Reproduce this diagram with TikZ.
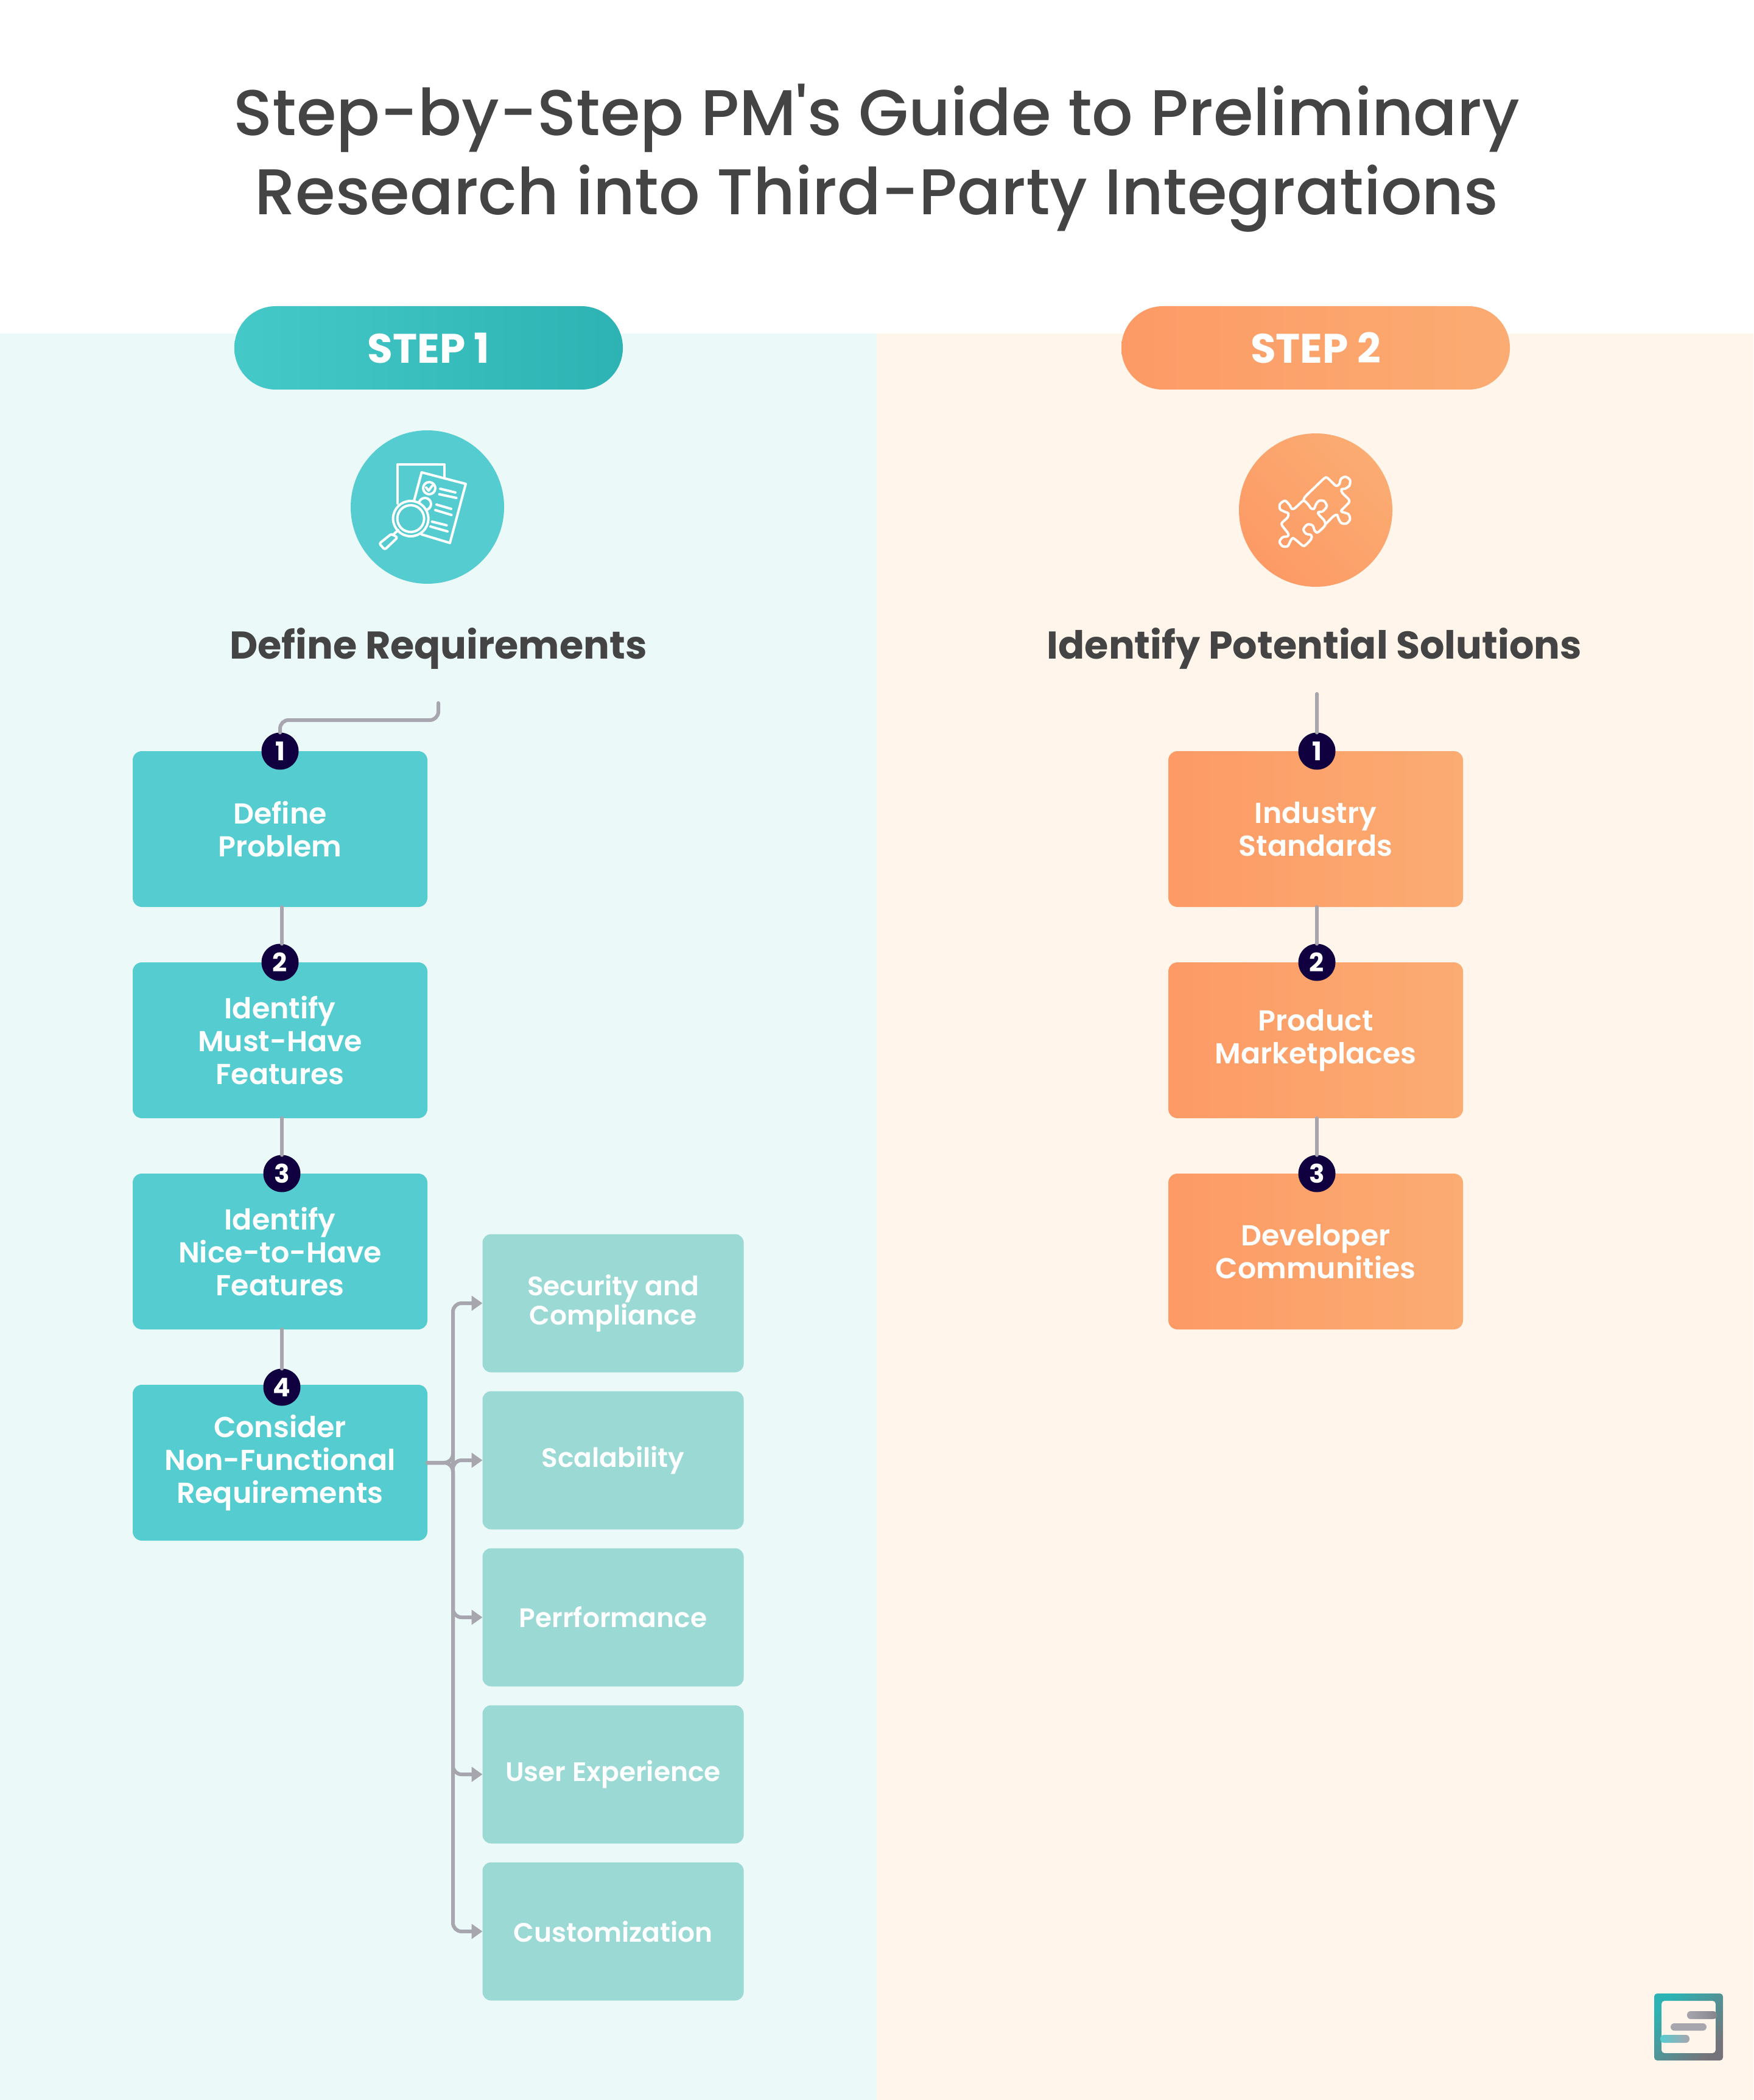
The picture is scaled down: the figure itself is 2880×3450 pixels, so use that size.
\documentclass[tikz,border=0pt]{standalone}
\usepackage{fontspec}
\setmainfont{Poppins}
\newfontfamily\medfont{Poppins Medium}
\newfontfamily\semifont{Poppins SemiBold}
\usetikzlibrary{positioning, arrows.meta}

\definecolor{tealbg}{HTML}{EBF9F9}
\definecolor{orangebg}{HTML}{FFF5EA}
\definecolor{tealbox}{HTML}{55CDD0}
\definecolor{tealsub}{HTML}{9AD9D4}
\definecolor{pillL}{HTML}{45C8C8}
\definecolor{pillR}{HTML}{2DB3B3}
\definecolor{orangeL}{HTML}{FD9A66}
\definecolor{orangeR}{HTML}{FBAC72}
\definecolor{linegray}{HTML}{A7A5AE}
\definecolor{inkdark}{HTML}{11003F}
\definecolor{titlegray}{HTML}{444444}

\begin{document}
\begin{tikzpicture}[
      x=0.1mm, y=-0.1mm,
      stepbox/.style  = {rectangle, rounded corners=1.5mm, inner sep=0pt, outer sep=0pt,
                         minimum width=48.4mm, minimum height=25.6mm,
                         align=center, text=white,
                         font=\semifont\fontsize{13.5}{15.4}\selectfont},
      tealstep/.style = {stepbox, fill=tealbox},
      orangestep/.style = {stepbox, left color=orangeL, right color=orangeR},
      subbox/.style   = {rectangle, rounded corners=1.4mm, inner sep=0pt, outer sep=0pt,
                         fill=tealsub, minimum width=42.9mm, minimum height=22.7mm,
                         align=center, text=white,
                         font=\semifont\fontsize{12.5}{13.7}\selectfont},
      pill/.style     = {rectangle, rounded corners=6.8mm, inner sep=0pt, outer sep=0pt,
                         minimum width=63.8mm, minimum height=13.7mm, text=white,
                         font=\bfseries\fontsize{19.3}{20}\selectfont},
      badge/.style    = {circle, fill=inkdark, text=white, inner sep=0pt, outer sep=0pt,
                         minimum size=6.1mm, font=\bfseries\fontsize{12}{12}\selectfont},
      disc/.style     = {circle, inner sep=0pt, outer sep=0pt, minimum size=25.2mm},
      heading/.style  = {text=titlegray, font=\bfseries\fontsize{18.1}{20}\selectfont},
      link/.style     = {draw=linegray, line width=0.6mm, line cap=round, rounded corners=1.4mm},
      arr/.style      = {link, -{Triangle[length=1.8mm, width=2.4mm]}},
      icon/.style     = {draw=white, line width=0.4mm, line cap=round, line join=round},
    ]
    \useasboundingbox (0,0) rectangle (2880,3450);
    \fill[white] (0,0) rectangle (2880,3450);
    \fill[tealbg] (0,548) rectangle (1440,3450);
    \fill[orangebg] (1440,548) rectangle (2880,3450);

    \node[text=titlegray, align=center, font=\medfont\fontsize{30.2}{37}\selectfont]
          (title) at (1440,260) {Step-by-Step PM's Guide to Preliminary\\Research into Third-Party Integrations};

    % Step headers
    \node[pill, left color=pillL, right color=pillR] (stepA) at (704,571.5) {STEP 1};
    \node[pill, left color=orangeL, right color=orangeR] (stepB) at (2161,571.5) {STEP 2};
    \node[disc, fill=tealbox] (discA) at (702,833) {};
    \node[disc, left color=orangeL, right color=orangeR, shading angle=135] (discB) at (2161,838) {};
    \node[heading] (headA) at (720,1065) {Define Requirements};
    \node[heading] (headB) at (2159,1065) {Identify Potential Solutions};

    % Left column
    \node[tealstep] (problem) at (460,1362) {Define\\Problem};
    \node[tealstep, below=9.1mm of problem] (must) {Identify\\Must-Have\\Features};
    \node[tealstep, below=9.1mm of must] (nice) {Identify\\Nice-to-Have\\Features};
    \node[tealstep, below=9.1mm of nice] (nonfunc) {Consider\\Non-Functional\\Requirements};

    % Right column
    \node[orangestep] (standards) at (2161,1362) {Industry\\Standards};
    \node[orangestep, below=9.1mm of standards] (market) {Product\\Marketplaces};
    \node[orangestep, below=9.1mm of market] (devs) {Developer\\Communities};

    % Sub boxes
    \node[subbox] (security) at (1007,2141) {Security and\\Compliance};
    \node[subbox, below=3.1mm of security] (scale) {Scalability};
    \node[subbox, below=3.1mm of scale] (perf) {Perrformance};
    \node[subbox, below=3.1mm of perf] (ux) {User Experience};
    \node[subbox, below=3.1mm of ux] (custom) {Customization};

    % Number badges
    \node[badge] (a1) at (problem.north) {1};
    \node[badge] (a2) at (must.north) {2};
    \node[badge, xshift=0.3mm] (a3) at (nice.north) {3};
    \node[badge, xshift=0.3mm, yshift=-0.4mm] (a4) at (nonfunc.north) {4};
    \node[badge, xshift=0.2mm] (b1) at (standards.north) {1};
    \node[badge, xshift=0.2mm] (b2) at (market.north) {2};
    \node[badge, xshift=0.2mm] (b3) at (devs.north) {3};

    \coordinate (startA) at (720,1155);
    \coordinate (startB) at (2163,1140);
    \coordinate (bus) at (744,2402);

    % Flow links
    \draw[link] (startA) -- (720,1183) -- (460,1183) -- (a1.north);
    \draw[link] ([xshift=0.3mm]problem.south) -- ([xshift=0.3mm]a2.north);
    \draw[link] ([xshift=0.3mm]must.south) -- (a3.north);
    \draw[link] ([xshift=0.3mm]nice.south) -- (a4.north);
    \draw[link] (startB) -- (b1.north);
    \draw[link] ([xshift=0.2mm]standards.south) -- (b2.north);
    \draw[link] ([xshift=0.2mm]market.south) -- (b3.north);

    % Branches to the sub boxes
    \foreach \target in {security, scale, perf, ux, custom}
      \draw[arr] (nonfunc.east) -- (bus |- nonfunc.east) -- (bus |- \target.west) -- (\target.west);

    % Document icon
    \draw[icon] (653,827) -- (653,763) -- (730,763) -- (730,785);
    \draw[icon] (680,823) -- (692.5,776) -- (765,795) -- (739,892) -- (692.5,878);
    \draw[icon] (705,802) circle (10);
    \draw[icon] (698,828) circle (10);
    \draw[icon] (700,801) -- (704,806) -- (710,798);
    \draw[icon] (723,803) -- (748,809) (721.5,812) -- (749.6,818);
    \draw[icon] (717,829) -- (741,836) (715,838) -- (741.6,846);
    \draw[icon] (709.5,857) -- (733.6,863) (707,865) -- (735,873);
    \draw[icon, fill=tealbox] (674.6,852) circle (29);
    \draw[icon] (674.6,852) circle (22);
    \draw[icon] (654,871) -- (645,879);
    \draw[icon, rounded corners=0.3mm] (643,877) -- (623,893) -- (632,903) -- (653,883) -- cycle;

    % Puzzle icon
    \begin{scope}[shift={(1980,680)}, scale=0.3333]
      \draw[icon] plot[smooth cycle, tension=0.5] coordinates {
        (484,428) (462,445) (440,465) (425,468) (415,450) (392,428) (367,445) (368,470)
        (392,483) (408,490) (405,510) (375,540) (385,560) (408,590) (405,603) (380,608)
        (365,630) (380,652) (405,652) (418,628) (430,612) (450,625) (480,650) (495,645)
        (522,615) (520,597) (495,590) (483,568) (503,545) (528,550) (538,575) (550,585)
        (565,575) (590,548) (585,525) (560,498) (555,485) (578,480) (598,455) (585,430)
        (560,428) (545,445) (535,468) (520,465) (505,445)};
      \draw[icon] plot[smooth, tension=0.5] coordinates {
        (484,425) (490,410) (530,370) (585,318) (600,315) (625,338) (645,355) (660,345)
        (668,320) (690,310) (712,325) (710,352) (690,368) (670,372) (675,390) (705,420)
        (708,435) (690,455) (668,478) (680,485) (705,495) (712,520) (695,540) (670,538)
        (655,515) (648,497) (630,505) (605,530) (595,540)};
    \end{scope}

    % Corner logo
    \shade[even odd rule, left color=pillR, middle color=linegray, right color=linegray!70!black,
           shading angle=45, rounded corners=0.5mm]
      (2717,3275) rectangle (2830,3385) (2729,3287) rectangle (2818,3373);
    \shade[left color=linegray, right color=linegray!80!black, rounded corners=0.6mm]
      (2771,3304) rectangle (2820,3317);
    \fill[linegray, rounded corners=0.6mm] (2744,3324) rectangle (2803,3336);
    \shade[left color=tealbox, right color=linegray, rounded corners=0.6mm] (2727,3343) rectangle (2775,3356);
  \end{tikzpicture}
\end{document}
